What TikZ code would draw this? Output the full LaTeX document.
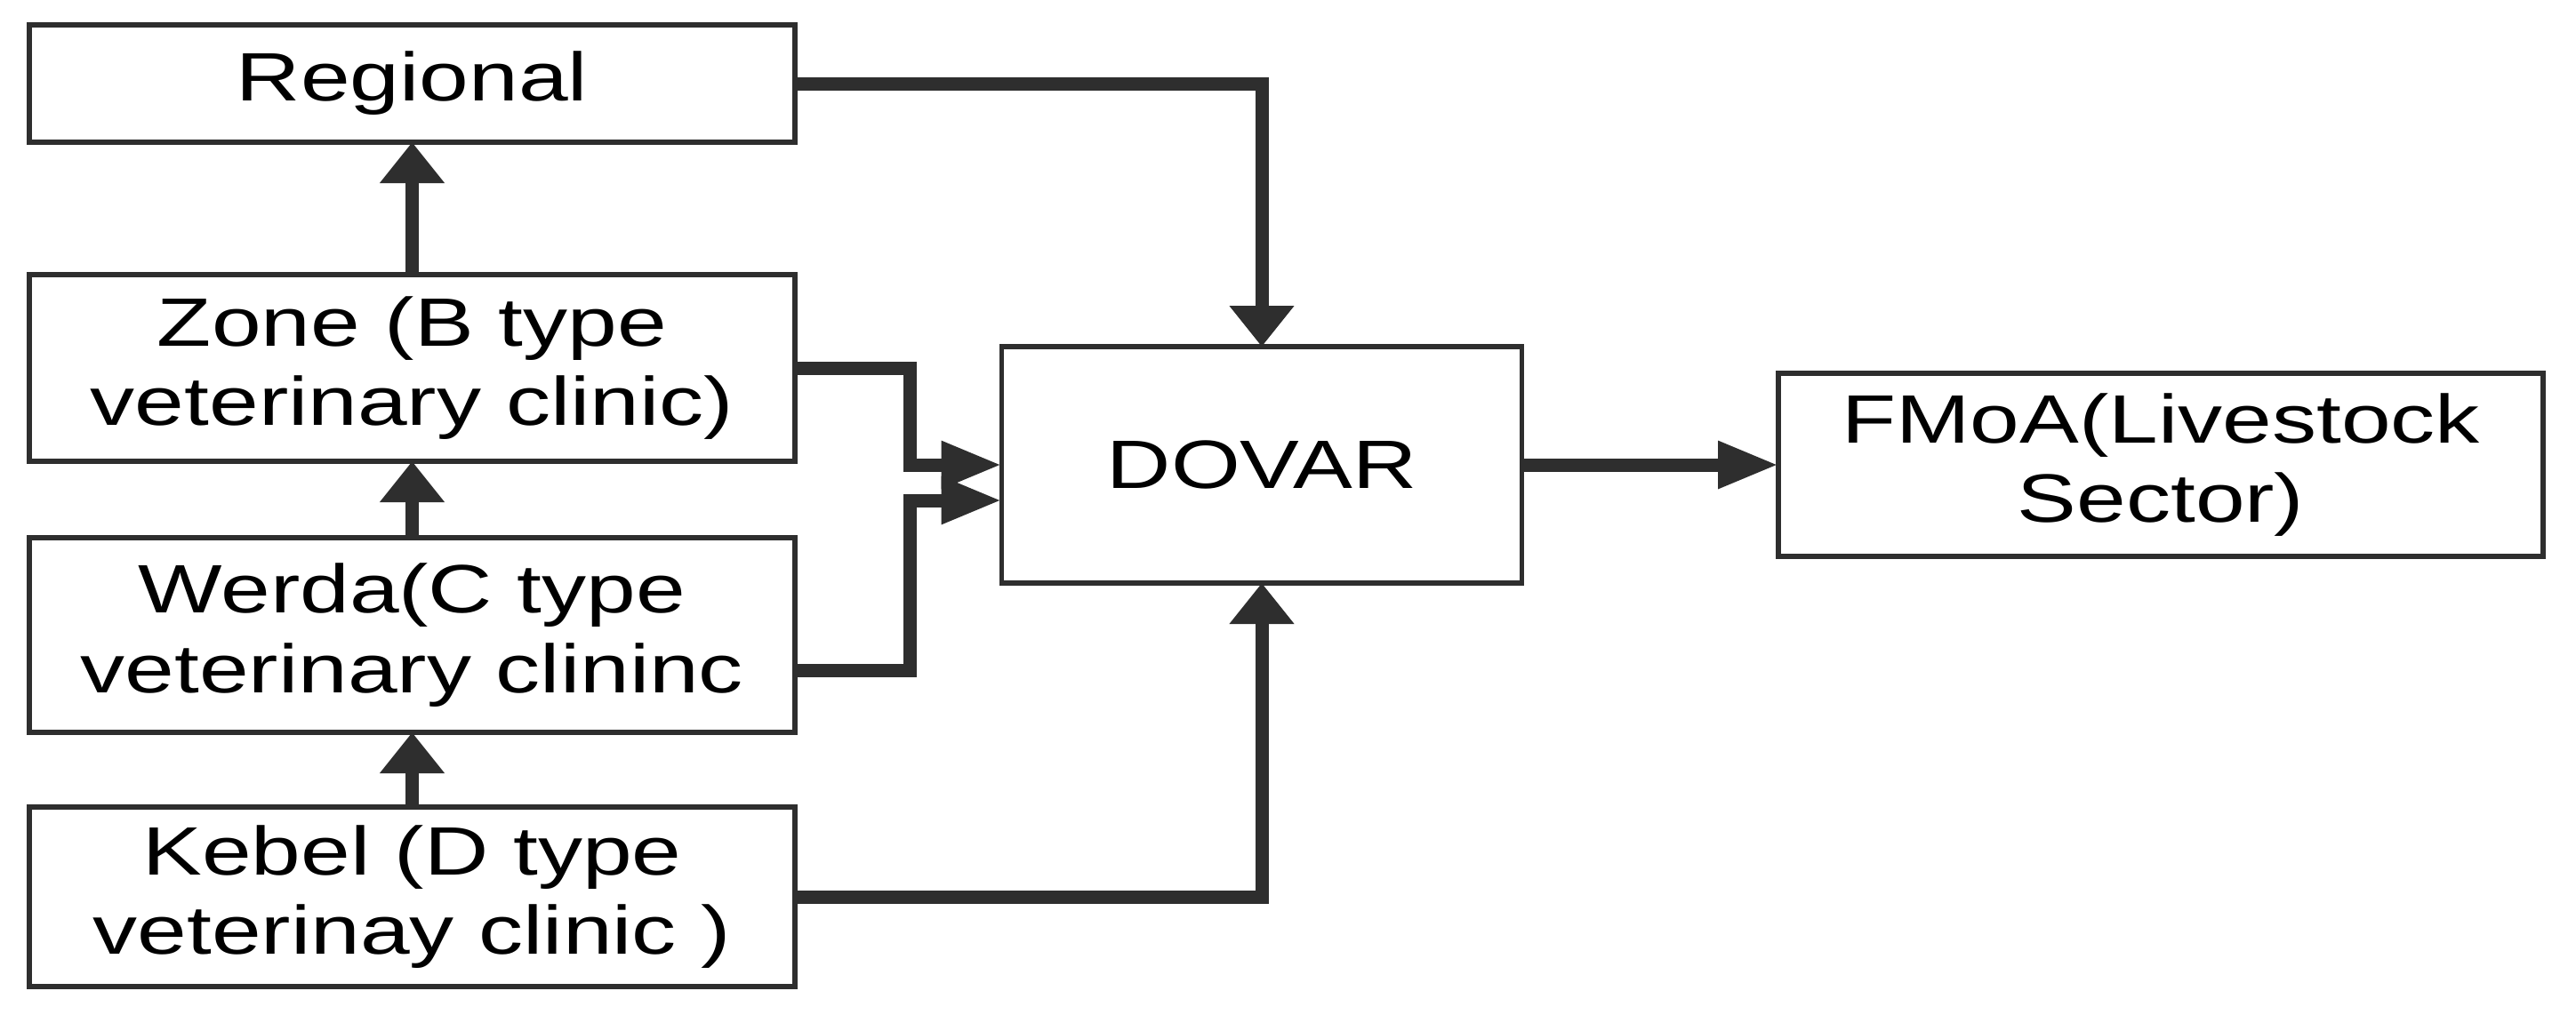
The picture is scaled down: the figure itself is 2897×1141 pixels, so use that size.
\documentclass[tikz,border=0pt]{standalone}
\usepackage{fontspec}
\setmainfont{Liberation Sans}[FakeStretch=1.3]
\usetikzlibrary{arrows.meta,calc}
\definecolor{ink}{RGB}{46,46,46}
\begin{document}
\begin{tikzpicture}[x=0.5pt,y=-0.5pt,
  box/.style={draw=ink,line width=2.75pt,fill=white,inner sep=0pt,outer sep=0pt,
    align=center,font=\fontsize{38.5pt}{44.75pt}\selectfont},
  conn/.style={draw=ink,line width=7.5pt},
  vtip/.style={-{Triangle[length=23pt,width=35pt]}},
  htip/.style={-{Triangle[length=34pt,width=25pt]}}]
\useasboundingbox (0,0) rectangle (2897,1141);
\node[box,minimum width=430.5pt,minimum height=66pt] (regional) at (463.5,94) {Regional};
\node[box,minimum width=430.5pt,minimum height=105pt] (zone) at (463.5,414) {Zone (B type\\veterinary clinic)};
\node[box,minimum width=430.5pt,minimum height=109.5pt] (werda) at (463.5,714.5) {Werda(C type\\veterinary clininc};
\node[box,minimum width=430.5pt,minimum height=101pt] (kebel) at (463.5,1009) {Kebel (D type\\veterinay clinic )};
\node[box,minimum width=292.5pt,minimum height=133pt] (dovar) at (1419,523) {DOVAR};
\node[box,minimum width=430pt,minimum height=103pt] (fmoa) at (2430,523) {FMoA(Livestock\\Sector)};
\coordinate (jx) at (1023,0);
\coordinate (din1) at (dovar.west);
\coordinate (din2) at ($(dovar.west)+(0,40)$);
\coordinate (wout) at ($(werda.east)+(0,39.5)$);
\draw[conn,vtip] (zone.north) -- (regional.south);
\draw[conn,vtip] (werda.north) -- (zone.south);
\draw[conn,vtip] (kebel.north) -- (werda.south);
\draw[conn,vtip] (regional.east) -| (dovar.north);
\draw[conn,vtip] (kebel.east) -| (dovar.south);
\draw[conn,htip] (zone.east) -| (jx |- din1) -- (din1);
\draw[conn,htip] (wout) -| (jx |- din2) -- (din2);
\draw[conn,htip] (dovar.east) -- (fmoa.west);
\end{tikzpicture}
\end{document}
